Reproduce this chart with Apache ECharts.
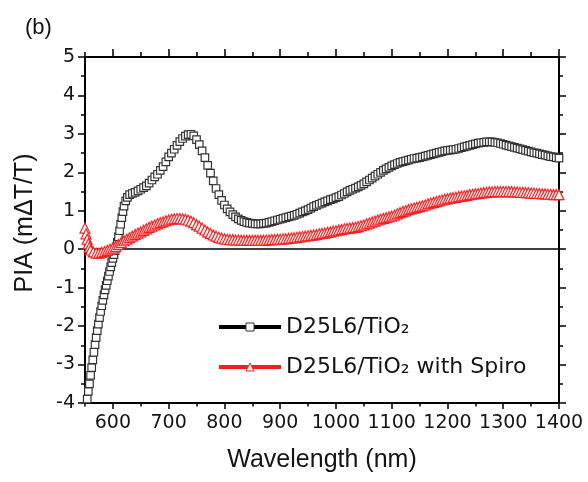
<!DOCTYPE html>
<html>
<head>
<meta charset="utf-8">
<style>
  html, body { margin: 0; padding: 0; background: #fff; }
  #chart { width: 588px; height: 482px; }
</style>
<script src="https://cdn.jsdelivr.net/npm/echarts@6/dist/echarts.min.js"></script>
</head>
<body>
<div id="chart"></div>
<script>
// Photo-induced absorption spectra, PIA (mΔT/T) versus wavelength (nm)

const seriesNames = ['D25L6/TiO₂', 'D25L6/TiO₂ with Spiro'];

// D25L6/TiO2: steep rise on the blue edge, sampled every 2 nm
const dyeSteepWl = [554, 556, 558, 560, 562, 564, 566, 568, 570, 572, 574, 576, 578, 580,
  582, 584, 586, 588, 590, 592, 594, 596, 598, 600, 602, 604, 606, 608, 610, 612, 614,
  616, 618, 620, 623, 626, 630];
const dyeSteepVal = [-3.9, -3.7, -3.5, -3.28, -3.08, -2.88, -2.68, -2.48, -2.3, -2.12,
  -1.95, -1.78, -1.62, -1.47, -1.33, -1.19, -1.06, -0.94, -0.82, -0.7, -0.58, -0.46,
  -0.35, -0.24, -0.14, -0.04, 0.06, 0.18, 0.32, 0.48, 0.65, 0.82, 0.98, 1.12, 1.26,
  1.35, 1.42];

// D25L6/TiO2: 635–1400 nm, 5 nm sampling
const dyeStart = 635, dyeStep = 5;
const dyeVal = [
  1.45, 1.48, 1.52, 1.56, 1.6, 1.65, 1.72, 1.8, 1.88, 1.95,          // 635–680
  2.05, 2.15, 2.27, 2.4, 2.5, 2.6, 2.7, 2.8, 2.88, 2.94,             // 685–730
  2.98, 2.99, 2.95, 2.85, 2.72, 2.56, 2.38, 2.18, 1.98, 1.78,        // 735–780
  1.58, 1.42, 1.27, 1.15, 1.05, 0.97, 0.9, 0.84, 0.79, 0.75,         // 785–830
  0.72, 0.7, 0.68, 0.67, 0.66, 0.66, 0.66, 0.67, 0.68, 0.7,          // 835–880
  0.72, 0.74, 0.76, 0.78, 0.8, 0.82, 0.84, 0.86, 0.88, 0.91,         // 885–930
  0.94, 0.97, 1.0, 1.03, 1.07, 1.11, 1.14, 1.17, 1.2, 1.23,          // 935–980
  1.26, 1.29, 1.31, 1.34, 1.37, 1.41, 1.45, 1.49, 1.53, 1.56,        // 985–1030
  1.59, 1.62, 1.66, 1.7, 1.75, 1.8, 1.85, 1.9, 1.95, 2.0,            // 1035–1080
  2.05, 2.09, 2.13, 2.17, 2.2, 2.23, 2.26, 2.28, 2.3, 2.32,          // 1085–1130
  2.34, 2.36, 2.37, 2.38, 2.4, 2.42, 2.44, 2.46, 2.48, 2.5,          // 1135–1180
  2.52, 2.54, 2.56, 2.57, 2.58, 2.59, 2.6, 2.62, 2.64, 2.66,         // 1185–1230
  2.68, 2.7, 2.72, 2.74, 2.76, 2.77, 2.78, 2.79, 2.79, 2.79,         // 1235–1280
  2.78, 2.77, 2.75, 2.73, 2.71, 2.69, 2.67, 2.65, 2.63, 2.61,        // 1285–1330
  2.59, 2.57, 2.55, 2.53, 2.51, 2.5, 2.48, 2.46, 2.45, 2.43,         // 1335–1380
  2.41, 2.4, 2.38, 2.37                                              // 1385–1400
];

// D25L6/TiO2 with Spiro: blue edge, sampled every 2 nm
const spiroEdgeWl = [550, 552, 554, 556, 558, 560];
const spiroEdgeVal = [0.55, 0.4, 0.26, 0.14, 0.05, -0.02];

// D25L6/TiO2 with Spiro: 565–1400 nm, 5 nm sampling
const spiroStart = 565, spiroStep = 5;
const spiroVal = [
  -0.07, -0.1, -0.1, -0.08, -0.06, -0.03, 0.0,                       // 565–595
  0.03, 0.07, 0.12, 0.17, 0.22, 0.26, 0.3, 0.34, 0.38, 0.42,         // 600–645
  0.45, 0.49, 0.53, 0.57, 0.6, 0.63, 0.66, 0.69, 0.71, 0.74,         // 650–695
  0.76, 0.78, 0.79, 0.8, 0.8, 0.79, 0.78, 0.76, 0.73, 0.69,          // 700–745
  0.64, 0.6, 0.55, 0.5, 0.45, 0.41, 0.37, 0.34, 0.31, 0.29,          // 750–795
  0.27, 0.26, 0.25, 0.25, 0.24, 0.24, 0.23, 0.23, 0.23, 0.23,        // 800–845
  0.23, 0.23, 0.23, 0.23, 0.23, 0.24, 0.24, 0.25, 0.25, 0.26,        // 850–895
  0.26, 0.27, 0.27, 0.28, 0.29, 0.3, 0.31, 0.32, 0.33, 0.34,         // 900–945
  0.35, 0.36, 0.37, 0.38, 0.4, 0.41, 0.42, 0.44, 0.45, 0.47,         // 950–995
  0.48, 0.5, 0.51, 0.53, 0.54, 0.55, 0.56, 0.57, 0.59, 0.61,         // 1000–1045
  0.63, 0.66, 0.68, 0.71, 0.73, 0.76, 0.78, 0.8, 0.82, 0.84,         // 1050–1095
  0.86, 0.89, 0.92, 0.95, 0.98, 1.0, 1.03, 1.05, 1.07, 1.09,         // 1100–1145
  1.11, 1.13, 1.15, 1.18, 1.2, 1.22, 1.24, 1.26, 1.28, 1.3,          // 1150–1195
  1.31, 1.33, 1.34, 1.35, 1.37, 1.38, 1.39, 1.4, 1.42, 1.43,         // 1200–1245
  1.44, 1.45, 1.46, 1.47, 1.48, 1.49, 1.49, 1.5, 1.5, 1.5,           // 1250–1295
  1.5, 1.5, 1.5, 1.5, 1.49, 1.49, 1.48, 1.48, 1.47, 1.47,            // 1300–1345
  1.46, 1.46, 1.45, 1.45, 1.44, 1.44, 1.43, 1.43, 1.42, 1.42,        // 1350–1395
  1.42                                                               // 1400
];

// Axis ticks
const xMajorTicks = [600, 700, 800, 900, 1000, 1100, 1200, 1300, 1400];
const xMinorTicks = [550, 650, 750, 850, 950, 1050, 1150, 1250, 1350];
const yMin = -4, yMax = 5, yStep = 1;

// Pair wavelengths with values
const dyeData = dyeSteepWl.map((w, i) => [w, dyeSteepVal[i]])
  .concat(dyeVal.map((v, i) => [dyeStart + i * dyeStep, v]));
const spiroData = spiroEdgeWl.map((w, i) => [w, spiroEdgeVal[i]])
  .concat(spiroVal.map((v, i) => [spiroStart + i * spiroStep, v]));

const tickFont = 'DejaVu Sans';
const nameFont = 'Liberation Sans, Arial, sans-serif';
const ink = '#141414';

function xAxisDef(position, ticks, tickLen, withLine, withLabels) {
  return {
    type: 'value', position: position, min: 550, max: 1400,
    axisLine: { show: withLine, onZero: false, lineStyle: { color: '#000', width: 2 } },
    axisTick: { show: true, inside: false, length: tickLen, customValues: ticks,
      lineStyle: { color: '#000', width: 1.5 } },
    axisLabel: withLabels
      ? { show: true, customValues: ticks, margin: 11, color: ink,
          fontFamily: tickFont, fontSize: 19, formatter: v => String(v) }
      : { show: false },
    splitLine: { show: false }
  };
}

function yAxisDef(position, withLabels) {
  return {
    type: 'value', position: position, min: yMin, max: yMax, interval: yStep,
    axisLine: { show: true, onZero: false, lineStyle: { color: '#000', width: 2 } },
    axisTick: { show: true, inside: false, length: 7, lineStyle: { color: '#000', width: 1.5 } },
    minorTick: { show: true, splitNumber: 2, length: 4, lineStyle: { color: '#000', width: 1.5 } },
    axisLabel: withLabels
      ? { show: true, margin: 10, color: ink, fontFamily: tickFont, fontSize: 19 }
      : { show: false },
    splitLine: { show: false },
    minorSplitLine: { show: false }
  };
}

const bottomMain = xAxisDef('bottom', xMajorTicks, 6, true, true);
bottomMain.name = 'Wavelength (nm)';
bottomMain.nameLocation = 'middle';
bottomMain.nameGap = 45;
bottomMain.nameTextStyle = { fontFamily: nameFont, fontSize: 25, color: ink };

const leftMain = yAxisDef('left', true);
leftMain.name = 'PIA (mΔT/T)';
leftMain.nameLocation = 'middle';
leftMain.nameGap = 47;
leftMain.nameTextStyle = { fontFamily: nameFont, fontSize: 25, color: ink, padding: [0, 0, 0, 14] };

const chart = echarts.init(document.getElementById('chart'), null, { renderer: 'canvas' });

chart.setOption({
  animation: false,
  backgroundColor: '#fff',
  title: {
    text: '(b)', left: 20, top: 12,
    textStyle: { fontFamily: nameFont, fontSize: 22, fontWeight: 'normal', color: ink }
  },
  grid: { left: 85, right: 29, top: 57, bottom: 79, containLabel: false },
  xAxis: [
    bottomMain,
    xAxisDef('bottom', xMinorTicks, 3.5, false, false),
    xAxisDef('top', xMajorTicks, 8, true, false),
    xAxisDef('top', xMinorTicks, 5, false, false)
  ],
  yAxis: [
    leftMain,
    yAxisDef('right', false)
  ],
  legend: {
    orient: 'vertical', left: 212, top: 310,
    itemWidth: 62, itemHeight: 10, itemGap: 16,
    selectedMode: false,
    textStyle: { fontFamily: tickFont, fontSize: 22, color: ink, lineHeight: 24 },
    lineStyle: { width: 4, opacity: 1 },
    itemStyle: { borderWidth: 1 },
    data: seriesNames
  },
  series: [
    {
      name: seriesNames[0], type: 'line', data: dyeData,
      symbol: 'rect', symbolSize: 7.5, showSymbol: true,
      itemStyle: { color: '#fff', borderColor: '#333', borderWidth: 1.2 },
      lineStyle: { color: '#000', width: 2, opacity: 0 },
      emphasis: { disabled: true }, silent: true,
      markLine: {
        silent: true, z: 1, symbol: ['none', 'none'],
        label: { show: false },
        lineStyle: { color: '#000', width: 1.5, type: 'solid' },
        data: [{ yAxis: 0 }]
      }
    },
    {
      name: seriesNames[1], type: 'line', data: spiroData,
      symbol: 'triangle', symbolSize: 10, showSymbol: true,
      itemStyle: { color: '#fff', borderColor: '#ff1f1f', borderWidth: 1.2 },
      lineStyle: { color: '#ff1a1a', width: 2, opacity: 0 },
      emphasis: { disabled: true }, silent: true
    }
  ]
});
</script>
</body>
</html>
